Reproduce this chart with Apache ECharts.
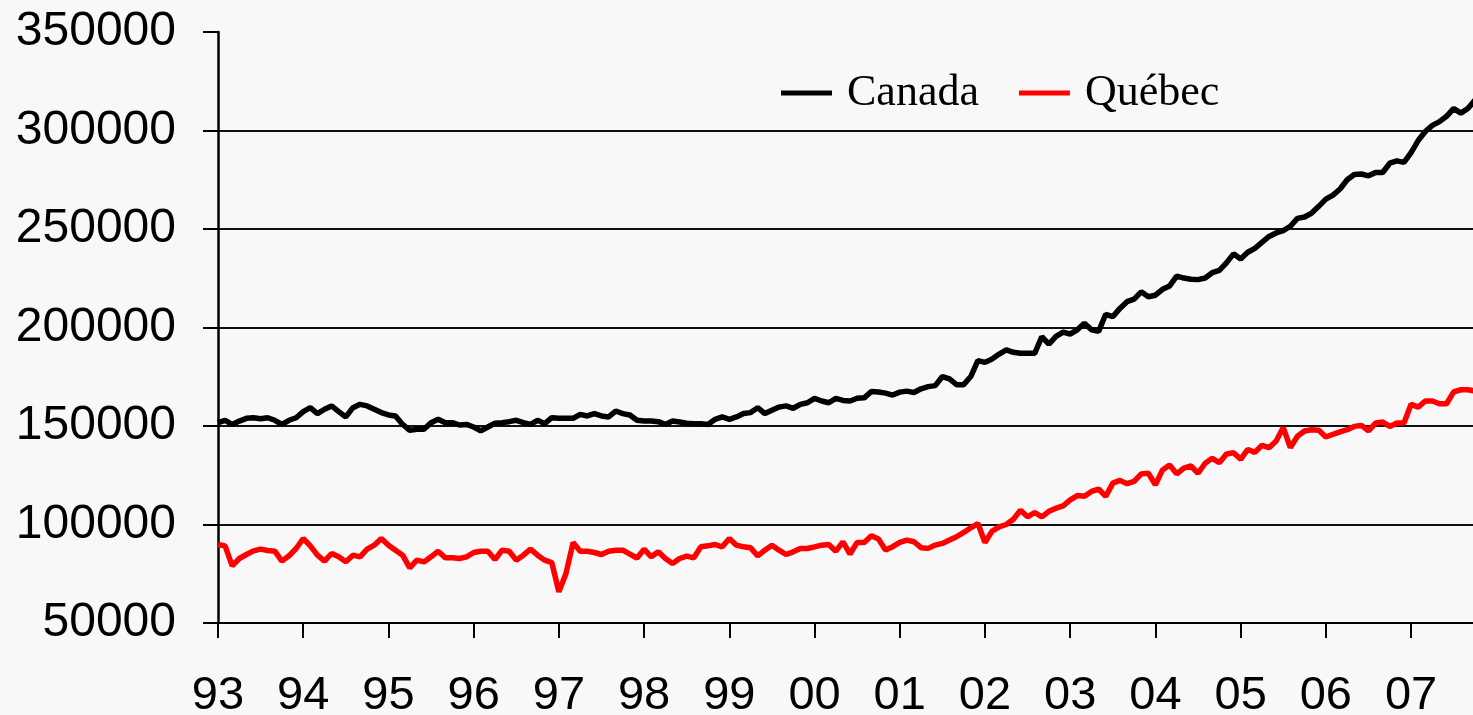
<!DOCTYPE html>
<html>
<head>
<meta charset="utf-8">
<script src="https://cdn.jsdelivr.net/npm/echarts@6/dist/echarts.min.js"></script>
<style>
  html, body { margin: 0; padding: 0; background: #f8f8f8; }
  #chart { width: 1473px; height: 715px; }
</style>
</head>
<body>
<div id="chart"></div>
<script>
// year labels shown under the x axis (one per January)
const years = ['93', '94', '95', '96', '97', '98', '99', '00', '01', '02', '03', '04', '05', '06', '07']

// monthly values, Jan 1993 onward
const canada = [
  151700, 152900, 150800, 152500, 153900, 154200, 153700, 154200, 152900, 150800, 152900, 154200,
  157300, 159300, 156300, 158500, 160200, 157300, 154600, 159300, 161000, 160200, 158500, 156800,
  155600, 155100, 150800, 147800, 148300, 148300, 151700, 153400, 151700, 151700, 150500, 150800,
  149500, 147500, 149500, 151400, 151700, 152200, 152900, 151700, 150800, 152900, 151200, 154200,
  153900, 153900, 153900, 155900, 155100, 156300, 155100, 154600, 157600, 156300, 155600, 152900,
  152500, 152500, 152200, 150800, 152500, 152000, 151400, 151200, 151200, 150800, 153400, 154600,
  153400, 154600, 156300, 156800, 159300, 156300, 158000, 159600, 160200, 159000, 161000, 161800,
  164000, 162700, 161800, 164000, 163000, 162700, 164100, 164300, 167500, 167300, 166700, 165700,
  167200, 167700, 167000, 168900, 170000, 170500, 175100, 173900, 171000, 171000, 175100, 183200,
  182300, 184000, 186500, 188600, 187400, 186900, 186900, 186900, 195300, 191600, 195500, 197700,
  196700, 198800, 202200, 198800, 198000, 206700, 205500, 209700, 213100, 214400, 218100, 215600,
  216400, 219400, 221100, 226100, 225100, 224500, 224300, 225100, 227800, 229000, 232800, 237400,
  234800, 238200, 240200, 243200, 246200, 248000, 249200, 251400, 255400, 256100, 258100, 261500,
  265200, 267200, 270300, 275000, 277700, 277900, 277000, 278700, 278700, 283400, 284600, 283800,
  288800, 294900, 299500, 302600, 304500, 307200, 311200, 308800, 311200, 315500
]

const quebec = [
  89850, 89170, 79020, 82740, 84770, 86630, 87480, 86800, 86460, 81390, 84100, 87820,
  92900, 89170, 84430, 81390, 85280, 83590, 81050, 84430, 83590, 87480, 89510, 92900,
  89510, 86970, 84430, 78000, 81900, 81000, 83590, 86460, 83080, 83080, 82740, 83590,
  85790, 86460, 86460, 82230, 86970, 86460, 81900, 84430, 87480, 84430, 81900, 80700,
  65800, 75130, 90860, 86460, 86460, 85790, 84770, 86460, 86970, 86970, 85000, 83000,
  87480, 83590, 86130, 82740, 80200, 82740, 83930, 83080, 88660, 89170, 89850, 88660,
  92900, 89510, 88660, 88150, 84100, 86970, 89510, 86970, 84770, 86130, 87820, 87820,
  88660, 89510, 89850, 86460, 91200, 85000, 90900, 90900, 94270, 92590, 87030, 88720,
  90900, 92080, 91240, 88210, 87880, 89560, 90400, 92080, 93770, 95960, 98320, 100500,
  90900, 96630, 98820, 100000, 102700, 107200, 103900, 106100, 103900, 106700, 108300, 109500,
  112500, 114700, 114300, 116800, 118000, 114300, 121000, 122400, 120700, 121900, 125700, 126000,
  120200, 127700, 130200, 125700, 128600, 129700, 126000, 131100, 133600, 131400, 135800, 136400,
  133100, 138100, 136600, 140200, 139000, 142400, 149200, 139000, 144800, 147500, 148100, 147800,
  144400, 145800, 147000, 148100, 149800, 150300, 147500, 151500, 152000, 149800, 151500, 151500,
  161000, 159600, 162700, 162700, 161300, 161300, 167300, 168400, 168400, 167800
]

// one category per month: "93/1", "93/2", ...
const months = []
for (let i = 0; i < canada.length; i++) {
  months.push(years[Math.floor(i / 12)] + '/' + (i % 12 + 1))
}

const chart = echarts.init(document.getElementById('chart'))
chart.setOption({
  animation: false,
  backgroundColor: '#f8f8f8',
  grid: {
    left: 218,
    right: -2,
    top: 32,
    bottom: 92,
    containLabel: false,
    outerBoundsMode: 'none'
  },
  legend: {
    left: 776,
    top: 66,
    icon: 'rect',
    itemWidth: 51,
    itemHeight: 5,
    itemGap: 40,
    textStyle: {
      fontFamily: 'Liberation Serif',
      fontSize: 44,
      color: '#000',
      padding: [0, 0, 0, 10]
    },
    data: ['Canada', 'Québec']
  },
  xAxis: {
    type: 'category',
    boundaryGap: false,
    data: months,
    axisLine: { lineStyle: { color: '#000', width: 2 } },
    axisTick: { interval: 11, length: 15, lineStyle: { color: '#000', width: 2 } },
    axisLabel: {
      interval: 11,
      margin: 50,
      fontFamily: 'Liberation Sans',
      fontSize: 47,
      color: '#000',
      formatter: v => v.endsWith('/1') ? v.split('/')[0] : ''
    },
    splitLine: { show: false }
  },
  yAxis: {
    type: 'value',
    min: 50000,
    max: 350000,
    interval: 50000,
    axisLine: { show: true, lineStyle: { color: '#000', width: 2.5 } },
    axisTick: { show: true, length: 15, lineStyle: { color: '#000', width: 2 } },
    axisLabel: {
      margin: 42,
      fontFamily: 'Liberation Sans',
      fontSize: 48,
      color: '#000',
      formatter: v => String(v)
    },
    splitLine: {
      show: true,
      showMinLine: false,
      showMaxLine: false,
      lineStyle: { color: '#111', width: 2 }
    }
  },
  series: [
    {
      name: 'Canada',
      type: 'line',
      data: canada,
      showSymbol: false,
      lineStyle: { color: '#000', width: 5.5 },
      itemStyle: { color: '#000' }
    },
    {
      name: 'Québec',
      type: 'line',
      data: quebec,
      showSymbol: false,
      lineStyle: { color: '#ff0000', width: 5.5 },
      itemStyle: { color: '#ff0000' }
    }
  ]
})
</script>
</body>
</html>
